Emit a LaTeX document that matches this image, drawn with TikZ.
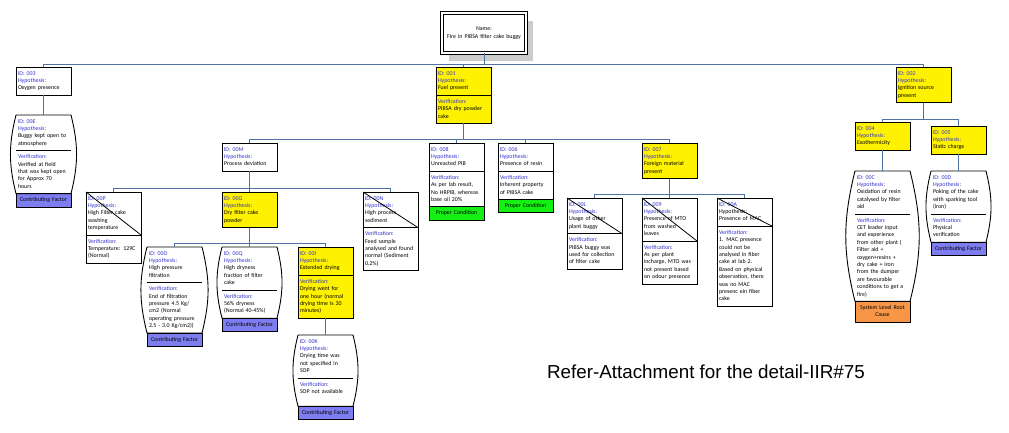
\documentclass[tikz,border=0pt]{standalone}
\usepackage{fontspec}
\setmainfont{Carlito}
\newfontfamily\capfont{Liberation Sans}
\usepackage{xcolor}
\usetikzlibrary{positioning,backgrounds}
\definecolor{hypblue}{RGB}{51,51,204}
\definecolor{linkblue}{RGB}{79,114,163}
\definecolor{cfblue}{RGB}{125,125,240}
\definecolor{pcgreen}{RGB}{20,240,20}
\definecolor{rcorange}{RGB}{247,150,70}
\definecolor{shadowgray}{RGB}{204,204,204}

\begin{document}
\begin{tikzpicture}[
    x=1pt, y=-1pt,
    box/.style={draw, fill=white, line width=0.9pt, rectangle, text width=51pt, inner xsep=2pt, inner ysep=3pt, outer sep=0pt, align=left, font=\fontsize{5.9}{7.4}\selectfont, execute at begin node=\strut, execute at end node=\strut},
    hot/.style={box, fill=yellow},
    part/.style={box, draw=none, fill=none},
    factor/.style={box, align=center, fill=cfblue},
    proper/.style={box, align=center, fill=pcgreen},
    rootcause/.style={box, align=center, fill=rcorange},
    link/.style={draw=linkblue, line width=0.9pt},
    barrel/.style={draw, line width=0.9pt},
    cross/.style={draw, line width=0.8pt}
]
\useasboundingbox (0,0) rectangle (1009,433);

% top event
\node[box, align=center, text width=80pt, minimum height=40pt, line width=1pt, double, double distance=1.2pt] (fire) at (484,33) {Name:\\Fire in PIBSA filter cake buggy};
\begin{scope}[on background layer]
\fill[shadowgray] ([shift={(7,8)}]fire.north west) rectangle ([shift={(7,8)}]fire.south east);
\end{scope}

% level 1
\node[box, anchor=north west] (h003) at (16,67) {\textcolor{hypblue}{ID: 003}\\\textcolor{hypblue}{Hypothesis:}\\Oxygen presence};
\node[hot, anchor=north west] (h001) at (436,67) {\textcolor{hypblue}{ID: 001}\\\textcolor{hypblue}{Hypothesis:}\\Fuel present};
\node[hot, below=0pt of h001] (v001) {\textcolor{hypblue}{Verification:}\\PIBSA dry powder\\cake};
\node[hot, anchor=north west] (h002) at (896,67) {\textcolor{hypblue}{ID: 002}\\\textcolor{hypblue}{Hypothesis:}\\Ignition source\\present};

% under 003
\node[part, anchor=north west] (h00E) at (16,115) {\textcolor{hypblue}{ID: 00E}\\\textcolor{hypblue}{Hypothesis:}\\Buggy kept open to\\atmosphere};
\node[part, below=0pt of h00E] (v00E) {\textcolor{hypblue}{Verification:}\\Verified at field\\that was kept open\\for Approx 70\\hours};
\node[factor, below=0pt of v00E] (f00E) {Contributing Factor};

% under 001
\node[box, anchor=north west] (h00M) at (222,143) {\textcolor{hypblue}{ID: 00M}\\\textcolor{hypblue}{Hypothesis:}\\Process deviation};
\node[box, anchor=north west] (h008) at (429,143) {\textcolor{hypblue}{ID: 008}\\\textcolor{hypblue}{Hypothesis:}\\Unreacted PIB};
\node[box, below=0pt of h008] (v008) {\textcolor{hypblue}{Verification:}\\As per lab result,\\No HRPIB, whereas\\base oil 20\%};
\node[proper, below=0pt of v008] (f008) {Proper Condition};
\node[box, anchor=north west] (h006) at (498,143) {\textcolor{hypblue}{ID: 006}\\\textcolor{hypblue}{Hypothesis:}\\Presence of resin};
\node[box, below=0pt of h006] (v006) {\textcolor{hypblue}{Verification:}\\Inherent property\\of PIBSA cake};
\node[proper, below=0pt of v006] (f006) {Proper Condition};
\node[hot, anchor=north west] (h007) at (642,143) {\textcolor{hypblue}{ID: 007}\\\textcolor{hypblue}{Hypothesis:}\\Foreign material\\present};

% under 00M
\node[box, anchor=north west] (h00P) at (86,192) {\textcolor{hypblue}{ID: 00P}\\\textcolor{hypblue}{Hypothesis:}\\High Filter cake\\washing\\temperature};
\node[box, below=0pt of h00P] (v00P) {\textcolor{hypblue}{Verification:}\\Temperature: 129C\\(Normal)};
\node[hot, anchor=north west] (h00G) at (222,192) {\textcolor{hypblue}{ID: 00G}\\\textcolor{hypblue}{Hypothesis:}\\Dry filter cake\\powder};
\node[box, anchor=north west] (h00N) at (363,192) {\textcolor{hypblue}{ID: 00N}\\\textcolor{hypblue}{Hypothesis:}\\High process\\sediment};
\node[box, below=0pt of h00N] (v00N) {\textcolor{hypblue}{Verification:}\\Feed sample\\analysed and found\\normal (Sediment\\0.2\%)};

% under 00G
\node[part, anchor=north west] (h00O) at (147,247) {\textcolor{hypblue}{ID: 00O}\\\textcolor{hypblue}{Hypothesis:}\\High pressure\\filtration};
\node[part, below=0pt of h00O] (v00O) {\textcolor{hypblue}{Verification:}\\End of filtration\\pressure 4.5 Kg/\\cm2 (Normal\\operating pressure\\2.5 - 3.0 Kg/cm2))};
\node[factor, below=0pt of v00O] (f00O) {Contributing Factor};
\node[part, anchor=north west] (h00Q) at (222,247) {\textcolor{hypblue}{ID: 00Q}\\\textcolor{hypblue}{Hypothesis:}\\High dryness\\fraction of filter\\cake};
\node[part, below=0pt of h00Q] (v00Q) {\textcolor{hypblue}{Verification:}\\56\% dryness\\(Normal 40-45\%)};
\node[factor, below=0pt of v00Q] (f00Q) {Contributing Factor};
\node[hot, anchor=north west] (h00I) at (298,247) {\textcolor{hypblue}{ID: 00I}\\\textcolor{hypblue}{Hypothesis:}\\Extended drying};
\node[hot, below=0pt of h00I] (v00I) {\textcolor{hypblue}{Verification:}\\Drying went for\\one hour (normal\\drying time is 30\\minutes)};

% under 00I
\node[part, anchor=north west] (h00K) at (298,335) {\textcolor{hypblue}{ID: 00K}\\\textcolor{hypblue}{Hypothesis:}\\Drying time was\\not specified in\\SOP};
\node[part, below=0pt of h00K] (v00K) {\textcolor{hypblue}{Verification:}\\SOP not available\\~};
\node[factor, below=0pt of v00K] (f00K) {Contributing Factor};

% under 007
\node[box, anchor=north west] (h00L) at (567,198) {\textcolor{hypblue}{ID: 00L}\\\textcolor{hypblue}{Hypothesis:}\\Usage of other\\plant buggy};
\node[box, below=0pt of h00L] (v00L) {\textcolor{hypblue}{Verification:}\\PIBSA buggy was\\used for collection\\of filter cake};
\node[box, anchor=north west] (h009) at (642,198) {\textcolor{hypblue}{ID: 009}\\\textcolor{hypblue}{Hypothesis:}\\Presence of MTO\\from washed\\leaves};
\node[box, below=0pt of h009] (v009) {\textcolor{hypblue}{Verification:}\\As per plant\\incharge, MTO was\\not present based\\on odour presence};
\node[box, anchor=north west] (h00A) at (717,198) {\textcolor{hypblue}{ID: 00A}\\Hypothesis:\\Presence of MAC};
\node[box, below=0pt of h00A] (v00A) {\textcolor{hypblue}{Verification:}\\1. MAC presence\\could not be\\analysed in fiber\\cake at lab 2.\\Based on physical\\observation, there\\was no MAC\\presenc ein fiber\\cake};

% under 002
\node[hot, anchor=north west] (h004) at (855,122) {\textcolor{hypblue}{ID: 004}\\\textcolor{hypblue}{Hypothesis:}\\Exothermicity};
\node[hot, anchor=north west] (h005) at (931,126) {\textcolor{hypblue}{ID: 005}\\\textcolor{hypblue}{Hypothesis:}\\Static charge};
\node[part, anchor=north west] (h00C) at (855,171) {\textcolor{hypblue}{ID: 00C}\\\textcolor{hypblue}{Hypothesis:}\\Oxidation of resin\\catalysed by filter\\aid};
\node[part, below=0pt of h00C] (v00C) {\textcolor{hypblue}{Verification:}\\CET leader input\\and experience\\from other plant (\\Filter aid +\\oxygen+resins +\\dry cake + iron\\from the dumper\\are favourable\\conditions to get a\\fire)};
\node[rootcause, below=0pt of v00C] (f00C) {System Level Root\\Cause};
\node[part, anchor=north west] (h00D) at (931,171) {\textcolor{hypblue}{ID: 00D}\\\textcolor{hypblue}{Hypothesis:}\\Poking of the cake\\with sparking tool\\(iron)};
\node[part, below=0pt of h00D] (v00D) {\textcolor{hypblue}{Verification:}\\Physical\\verification};
\node[factor, below=0pt of v00D] (f00D) {Contributing Factor};

% barrel outlines and crossed-out boxes
\foreach \b in {00E,00O,00Q,00K,00C,00D} {
  \draw[barrel] (h\b.north west) -- (h\b.north east) to[bend left=14] (v\b.south east) -- (v\b.south west) to[bend left=14] (h\b.north west);
  \draw[barrel] (v\b.north west) -- (v\b.north east);
}
\foreach \b in {00P,00N,00L,009,00A}
  \draw[cross] (h\b.north west) -- (h\b.south east);

% connectors
\coordinate (bus0) at (0,64);
\coordinate (bus1) at (0,139);
\coordinate (bus2) at (0,119);
\coordinate (bus3) at (0,188);
\coordinate (bus4) at (0,194);
\coordinate (bus5) at (0,243);
\foreach \c in {h003,h001,h002}
  \draw[link] (fire.south) |- (bus0 -| \c.north) -- (\c.north);
\foreach \c in {h00M,h008,h006,h007}
  \draw[link] (v001.south) |- (bus1 -| \c.north) -- (\c.north);
\foreach \c in {h004,h005}
  \draw[link] (h002.south) |- (bus2 -| \c.north) -- (\c.north);
\foreach \c in {h00P,h00G,h00N}
  \draw[link] (h00M.south) |- (bus3 -| \c.north) -- (\c.north);
\foreach \c in {h00L,h009,h00A}
  \draw[link] (h007.south) |- (bus4 -| \c.north) -- (\c.north);
\foreach \c in {h00O,h00Q,h00I}
  \draw[link] (h00G.south) |- (bus5 -| \c.north) -- (\c.north);
\draw[link] (h003) -- (h00E);
\draw[link] (v00I) -- (h00K);
\draw[link] (h004) -- (h00C);
\draw[link] (h005) -- (h00D);

\node[font=\capfont\fontsize{18.8}{22}\selectfont] (note) at (706,372) {Refer-Attachment for the detail-IIR\#75};

\end{tikzpicture}
\end{document}
